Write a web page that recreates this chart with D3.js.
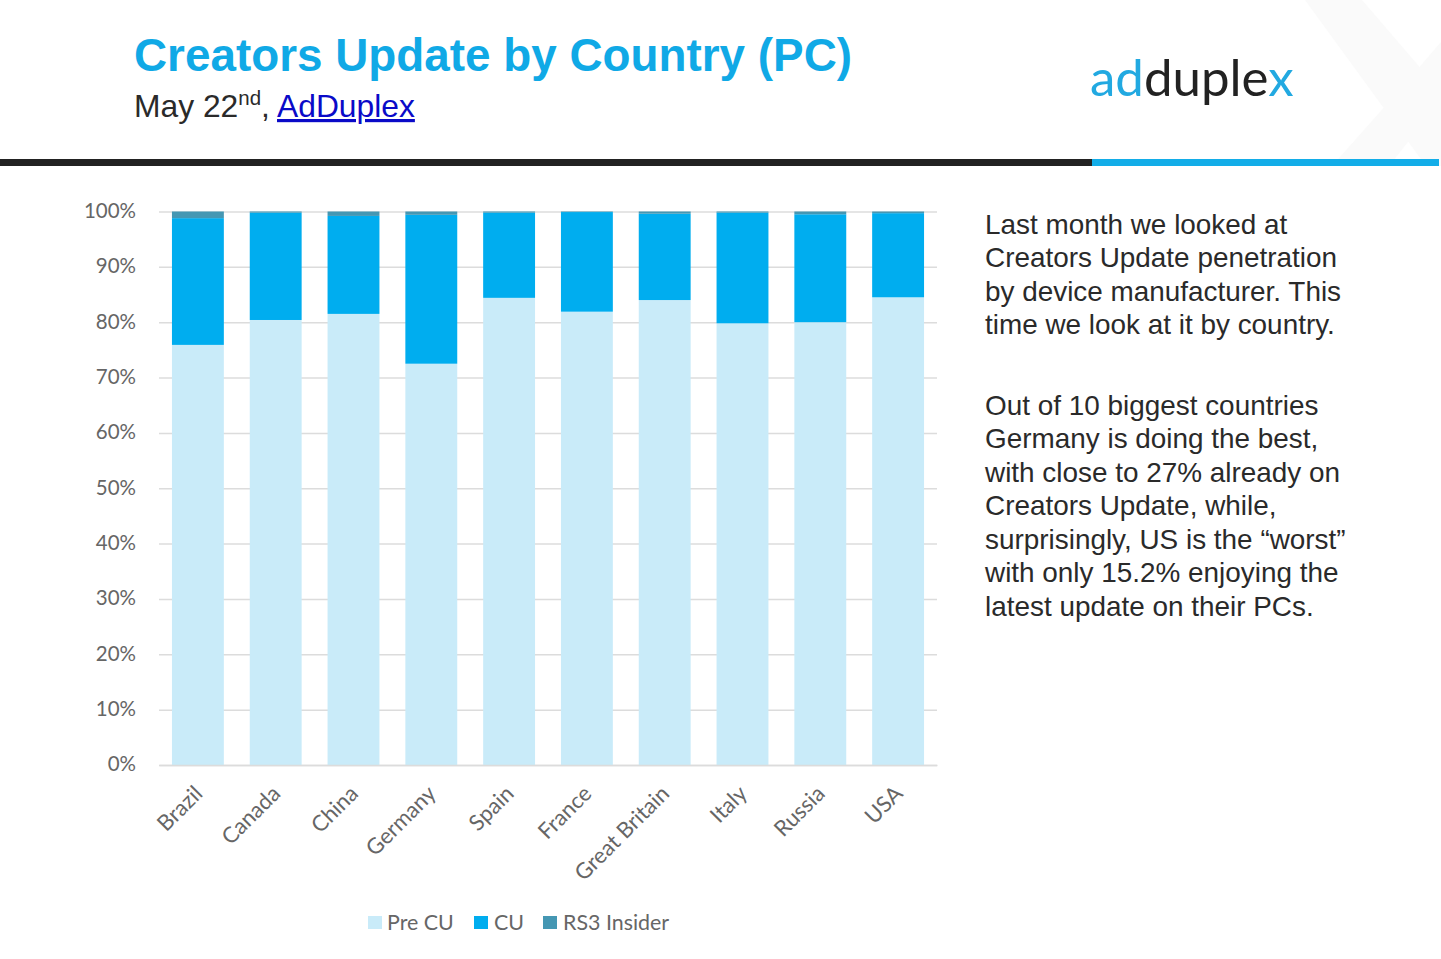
<!DOCTYPE html>
<html>
<head>
<meta charset="utf-8">
<script src="https://cdnjs.cloudflare.com/ajax/libs/d3/7.8.5/d3.min.js"></script>
<style>
html,body{margin:0;padding:0;background:#fff;overflow:hidden}
svg{display:block}
text{font-family:"Liberation Sans",Arial,sans-serif}
.chart text{font-family:Lato,"Open Sans",sans-serif}
</style>
</head>
<body>
<svg id="c" width="1441" height="959"></svg>
<script>
const categories = ["Brazil","Canada","China","Germany","Spain","France","Great Britain","Italy","Russia","USA"];
const preCU = [75.9,80.4,81.5,72.5,84.4,81.9,84.0,79.8,80.0,84.5];
const cu = [22.9,19.4,17.7,26.9,15.4,18.0,15.6,20.0,19.5,15.2];
const rs3 = [1.2,0.2,0.8,0.6,0.2,0.1,0.4,0.2,0.5,0.3];
const seriesNames = ["Pre CU","CU","RS3 Insider"];
const seriesColors = ["#c9ebf9","#00adef","#4597b3"];
const yTicks = [0,10,20,30,40,50,60,70,80,90,100];
const paragraph1 = ["Last month we looked at","Creators Update penetration","by device manufacturer. This","time we look at it by country."];
const paragraph2 = ["Out of 10 biggest countries","Germany is doing the best,","with close to 27% already on","Creators Update, while,","surprisingly, US is the “worst”","with only 15.2% enjoying the","latest update on their PCs."];

const svg = d3.select("#c");

// watermark X behind the header
svg.append("path").attr("d","M1305 0H1362L1441 92V166H1426Z M1441 42V100L1389 166H1332L1404 85Z").attr("fill","#fafafa");

// header
svg.append("text").attr("x",134).attr("y",71).attr("font-size",46).attr("font-weight",700).attr("fill","#10a9e6").attr("textLength",718).attr("lengthAdjust","spacingAndGlyphs").text("Creators Update by Country (PC)");
const sub = svg.append("text").attr("x",134).attr("y",117).attr("font-size",31.8).attr("fill","#2a2a2a");
sub.append("tspan").text("May 22");
sub.append("tspan").attr("font-size",20.5).attr("dy",-12).text("nd");
sub.append("tspan").attr("dy",12).text(", ");
sub.append("tspan").attr("fill","#0a0ac8").attr("text-decoration","underline").text("AdDuplex");

const logo = svg.append("text").attr("x",1090).attr("y",96).attr("font-size",51).style("font-family","Lato,'Open Sans',sans-serif").attr("font-weight",400).attr("fill","#222");
logo.append("tspan").attr("fill","#22a9e1").text("ad");
logo.append("tspan").text("duple");
logo.append("tspan").attr("fill","#22a9e1").text("x");

svg.append("rect").attr("x",0).attr("y",159).attr("width",1092).attr("height",7).attr("fill","#222");
svg.append("rect").attr("x",1092).attr("y",159).attr("width",347).attr("height",7).attr("fill","#13ade8");

// chart
const x = d3.scaleBand().domain(categories).range([159,937]).paddingInner(0.333).paddingOuter(0.1665);
const y = d3.scaleLinear().domain([0,100]).range([765,211.5]);
const chart = svg.append("g").attr("class","chart");

const yAxis = d3.axisLeft(y).tickValues(yTicks).tickFormat(d=>d+"%").tickSize(-(937-159)).tickPadding(23);
const yg = chart.append("g").attr("transform","translate(159,0)").call(yAxis);
yg.select(".domain").remove();
yg.selectAll("line").attr("stroke","#dcdcdc").attr("stroke-width",1.5);
yg.selectAll("text").attr("font-size",20.5).attr("fill","#666").attr("y",-0.7);

const rows = categories.map((c,i)=>({c,pre:preCU[i],cu:cu[i],rs3:rs3[i]}));
const stacked = d3.stack().keys(["pre","cu","rs3"])(rows);
chart.selectAll("g.s").data(stacked).join("g").attr("class","s").attr("fill",(d,i)=>seriesColors[i])
  .selectAll("rect").data(d=>d).join("rect")
  .attr("x",d=>x(d.data.c)).attr("width",x.bandwidth())
  .attr("y",d=>y(d[1])).attr("height",d=>y(d[0])-y(d[1]));

const xAxis = d3.axisBottom(x).tickSize(0);
const xg = chart.append("g").attr("transform","translate(0,765)").call(xAxis);
xg.select(".domain").attr("stroke","#dcdcdc").attr("stroke-width",1.5);
xg.selectAll("text").attr("font-size",22).attr("fill","#666")
  .attr("text-anchor","end").attr("dy",0).attr("y",0)
  .attr("transform","translate(6,30) rotate(-45)");

// legend
const legendX = [368,474,543], legendTextX = [387,494,563];
const lg = chart.append("g");
seriesNames.forEach((n,i)=>{
  lg.append("rect").attr("x",legendX[i]).attr("y",916).attr("width",14).attr("height",13).attr("fill",seriesColors[i]);
  lg.append("text").attr("x",legendTextX[i]).attr("y",930).attr("font-size",21.4).attr("fill","#666").text(n);
});

// side text
const side = svg.append("g").attr("font-size",27.9).attr("fill","#2a2a2a");
paragraph1.forEach((t,i)=>side.append("text").attr("x",985).attr("y",234+i*33.3).text(t));
paragraph2.forEach((t,i)=>side.append("text").attr("x",985).attr("y",415+i*33.45).text(t));
</script>
</body>
</html>
